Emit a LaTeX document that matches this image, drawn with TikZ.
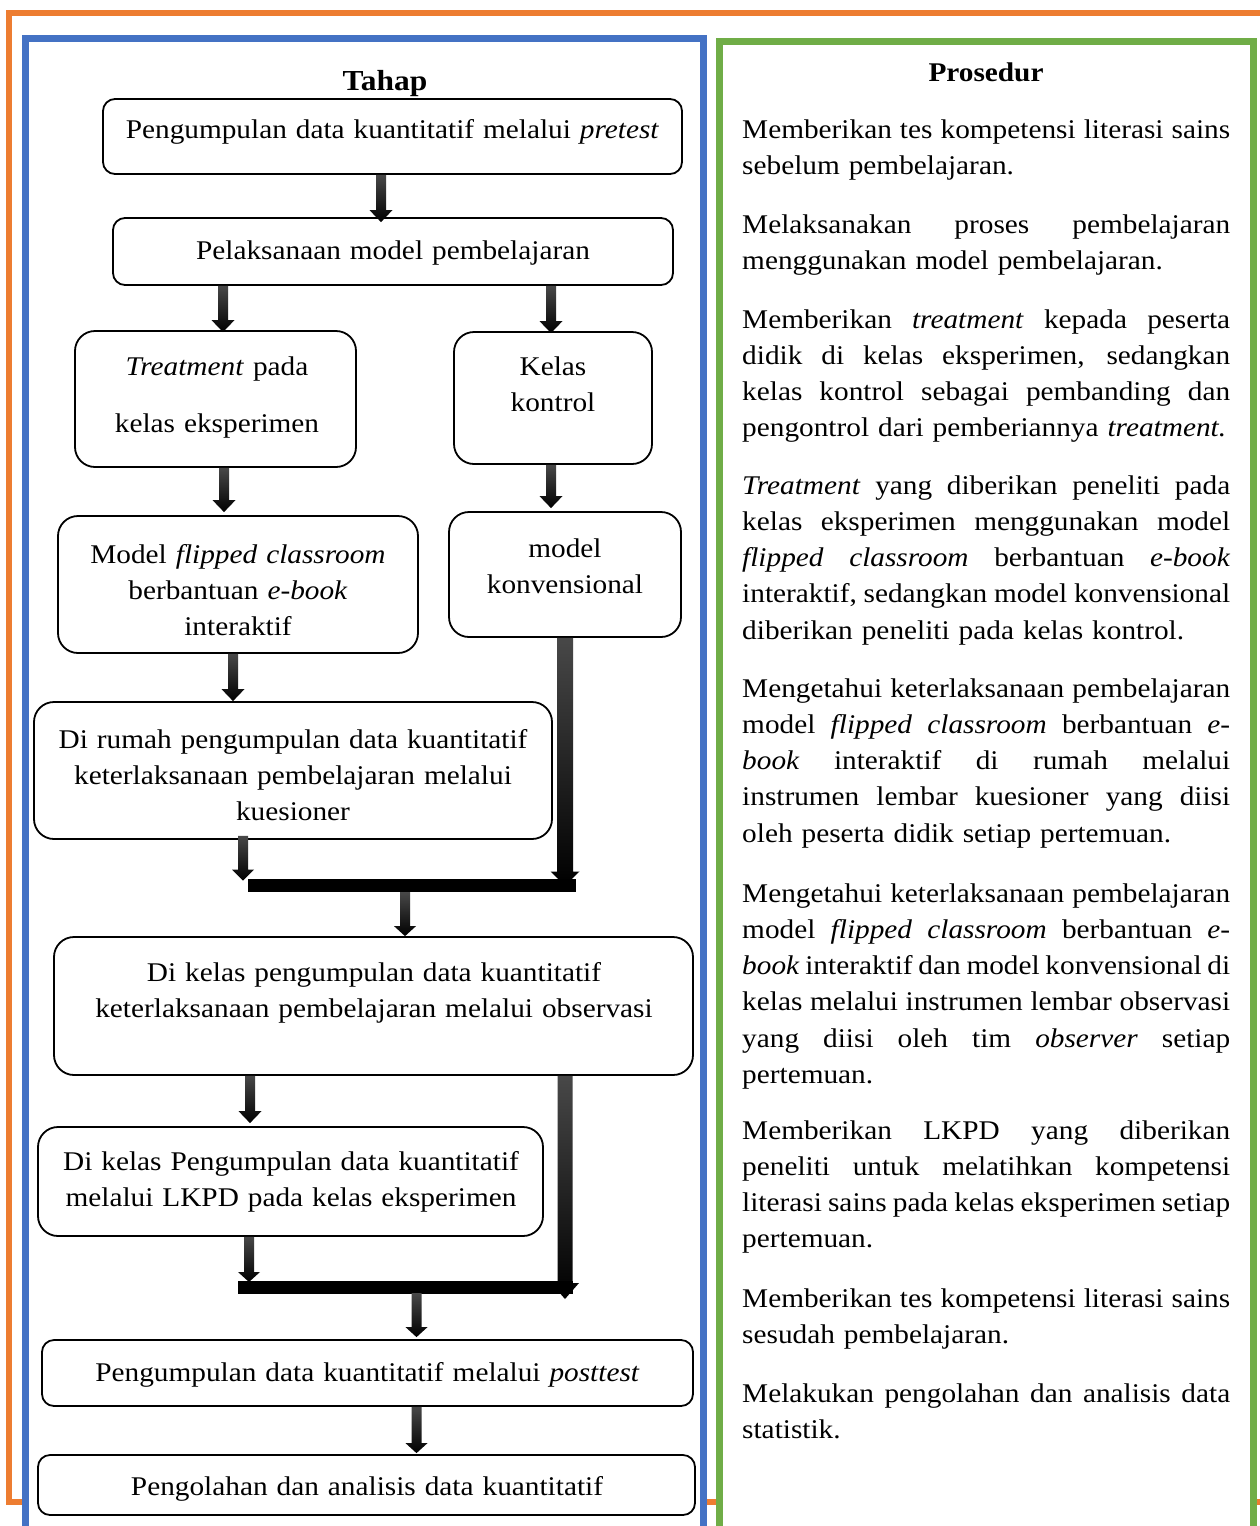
\documentclass[tikz,border=0pt]{standalone}
\usepackage{fontspec}
\setmainfont{Liberation Serif}[FakeStretch=1.085]
\usetikzlibrary{calc}
\definecolor{obord}{HTML}{ED7D31}
\definecolor{bbord}{HTML}{4472C4}
\definecolor{gbord}{HTML}{70AD47}
\definecolor{arrtop}{HTML}{484848}
\newlength\pw \setlength\pw{488pt}
\newcommand\JL[1]{\leavevmode\hbox to \pw{\spaceskip=0.25em plus 1fil minus 0.08em\relax #1}}
\newcommand\BArrow[5]{%
  \shade[top color=arrtop, middle color=black, bottom color=black] let \p1=#1, \p2=#2 in
  ({\x1-#3pt},\y1) -- ({\x1+#3pt},\y1) -- ({\x1+#3pt},{\y2+#5pt}) -- ({\x1+#4pt},{\y2+#5pt})
  -- (\x1,\y2) -- ({\x1-#4pt},{\y2+#5pt}) -- ({\x1-#3pt},{\y2+#5pt}) -- cycle;}
\tikzset{
  box/.style={draw=black, line width=1.8pt, rounded corners=20pt, fill=white, inner sep=0pt},
  sbox/.style={box, rounded corners=12pt},
  txt/.style={font=\fontsize{27}{36.3}\selectfont, align=center, text width=660pt, inner sep=0pt, anchor=base},
  para/.style={font=\fontsize{27}{36.3}\selectfont, align=left, inner sep=0pt, anchor=base west, text width=488pt},
  bar/.style={line width=13pt, draw=black},
}
\begin{document}
\begin{tikzpicture}[x=1pt,y=-1pt]
\useasboundingbox (0,0) rectangle (1259,1526);
% frames
\draw[obord, line width=6pt] (9,13) rectangle (1268,1502);
\draw[bbord, line width=7pt, fill=white] (25.5,38) rectangle (703,1540);
\draw[gbord, line width=7pt, fill=white] (719,41) rectangle (1253,1540);
% titles
\node[font=\bfseries\fontsize{29}{33}\selectfont, anchor=base, inner sep=0pt] (tahap) at (385,90) {Tahap};
\node[font=\bfseries\fontsize{27}{33}\selectfont, anchor=base, inner sep=0pt] (prosedur) at (986,81) {Prosedur};
% boxes
\node[sbox, minimum width=579pt, minimum height=75pt] (b1) at (392.5,136.5) {};
\node[sbox, minimum width=560pt, minimum height=67pt] (b2) at (393,251.5) {};
\node[box, minimum width=281pt, minimum height=136pt] (b3) at (215.5,399) {};
\node[box, minimum width=198pt, minimum height=132pt] (b4) at (553,398) {};
\node[box, minimum width=360pt, minimum height=137pt] (b5) at (238,584.5) {};
\node[box, minimum width=232pt, minimum height=125pt] (b6) at (565,574.5) {};
\node[box, minimum width=518pt, minimum height=137pt] (b7) at (293,770.5) {};
\node[box, minimum width=639pt, minimum height=138pt] (b8) at (373.5,1006) {};
\node[box, minimum width=505pt, minimum height=109pt] (b9) at (290.5,1181.5) {};
\node[sbox, minimum width=651pt, minimum height=66pt] (b10) at (367.5,1373) {};
\node[sbox, minimum width=657pt, minimum height=60pt] (b11) at (366.5,1485) {};
% box texts
\node[txt] (t1) at (392.5,138) {Pengumpulan data kuantitatif melalui \textit{pretest}};
\node[txt] (t2) at (393,259) {Pelaksanaan model pembelajaran};
\node[txt] (t3) at (217,375) {\textit{Treatment} pada\\[20.7pt]kelas eksperimen};
\node[txt] (t4) at (553,375) {Kelas\\kontrol};
\node[txt] (t5) at (238,563) {Model \textit{flipped classroom}\\berbantuan \textit{e-book}\\interaktif};
\node[txt] (t6) at (565,557) {model\\konvensional};
\node[txt] (t7) at (293,748) {Di rumah pengumpulan data kuantitatif\\keterlaksanaan pembelajaran melalui\\kuesioner};
\node[txt] (t8) at (374,981) {Di kelas pengumpulan data kuantitatif\\keterlaksanaan pembelajaran melalui observasi};
\node[txt] (t9) at (291,1170) {Di kelas Pengumpulan data kuantitatif\\melalui LKPD pada kelas eksperimen};
\node[txt] (t10) at (367.5,1381) {Pengumpulan data kuantitatif melalui \textit{posttest}};
\node[txt] (t11) at (367,1495) {Pengolahan dan analisis data kuantitatif};
% arrow columns and junctions
\coordinate (c223) at (223,0); \coordinate (c224) at (224,0); \coordinate (c233) at (233,0);
\coordinate (c243) at (243,0); \coordinate (c249) at (249,0); \coordinate (c250) at (250,0);
\coordinate (c381) at (381,0); \coordinate (c405) at (405,0); \coordinate (c416) at (416.5,0);
\coordinate (c551) at (551,0); \coordinate (c565) at (565,0);
\coordinate (j1l) at (248,885.5); \coordinate (j1r) at (576,885.5);
\coordinate (j2l) at (238,1287); \coordinate (j2r) at (573,1287);
% arrows
\BArrow{(b1.south -| c381)}{($(b2.north -| c381)+(0,5)$)}{5}{11.5}{12}
\BArrow{(b2.south -| c223)}{($(b3.north -| c223)+(0,2)$)}{5}{11.5}{12}
\BArrow{(b2.south -| c551)}{($(b4.north -| c551)+(0,2)$)}{5}{11.5}{12}
\BArrow{(b3.south -| c224)}{($(b5.north -| c224)+(0,-3)$)}{5}{11.5}{12}
\BArrow{(b4.south -| c551)}{($(b6.north -| c551)+(0,-3)$)}{5}{11.5}{12}
\BArrow{(b5.south -| c233)}{(b7.north -| c233)}{5}{11.5}{12}
\BArrow{($(b7.south -| c243)+(0,-4)$)}{($(j1l -| c243)+(0,-5)$)}{5}{11}{11}
\BArrow{(b6.south -| c565)}{(j1r -| c565)}{8}{14.5}{14}
\draw[bar] (j1l) -- (j1r);
\BArrow{($(j1l -| c405)+(0,6.5)$)}{(b8.north -| c405)}{5}{11}{10}
\BArrow{(b8.south -| c250)}{($(b9.north -| c250)+(0,-3)$)}{5}{11.5}{12}
\BArrow{(b8.south -| c565)}{($(j2r -| c565)+(0,12)$)}{7.5}{14}{16}
\BArrow{(b9.south -| c249)}{($(j2l -| c249)+(0,-5)$)}{5}{11}{10}
\draw[bar] (j2l) -- (j2r);
\BArrow{($(j2l -| c416)+(0,6)$)}{($(b10.north -| c416)+(0,-2)$)}{5}{11}{10}
\BArrow{(b10.south -| c416)}{($(b11.north -| c416)+(0,-1)$)}{5}{11}{10}
% procedure paragraphs
\node[para] (p1) at (742,138) {\JL{Memberikan tes kompetensi literasi sains}\\sebelum pembelajaran.};
\node[para] (p2) at (742,233) {\JL{Melaksanakan proses pembelajaran}\\menggunakan model pembelajaran.};
\node[para] (p3) at (742,328) {\JL{Memberikan \textit{treatment} kepada peserta}\\\JL{didik di kelas eksperimen, sedangkan}\\\JL{kelas kontrol sebagai pembanding dan}\\pengontrol dari pemberiannya \textit{treatment.}};
\node[para] (p4) at (742,494) {\JL{\textit{Treatment} yang diberikan peneliti pada}\\\JL{kelas eksperimen menggunakan model}\\\JL{\textit{flipped classroom} berbantuan \textit{e-book}}\\\JL{interaktif, sedangkan model konvensional}\\diberikan peneliti pada kelas kontrol.};
\node[para] (p5) at (742,697) {\JL{Mengetahui keterlaksanaan pembelajaran}\\\JL{model \textit{flipped classroom} berbantuan \textit{e-}}\\\JL{\textit{book} interaktif di rumah melalui}\\\JL{instrumen lembar kuesioner yang diisi}\\oleh peserta didik setiap pertemuan.};
\node[para] (p6) at (742,902) {\JL{Mengetahui keterlaksanaan pembelajaran}\\\JL{model \textit{flipped classroom} berbantuan \textit{e-}}\\\JL{\textit{book} interaktif dan model konvensional di}\\\JL{kelas melalui instrumen lembar observasi}\\\JL{yang diisi oleh tim \textit{observer} setiap}\\pertemuan.};
\node[para] (p7) at (742,1139) {\JL{Memberikan LKPD yang diberikan}\\\JL{peneliti untuk melatihkan kompetensi}\\\JL{literasi sains pada kelas eksperimen setiap}\\pertemuan.};
\node[para] (p8) at (742,1307) {\JL{Memberikan tes kompetensi literasi sains}\\sesudah pembelajaran.};
\node[para] (p9) at (742,1402) {\JL{Melakukan pengolahan dan analisis data}\\statistik.};
\end{tikzpicture}
\end{document}
